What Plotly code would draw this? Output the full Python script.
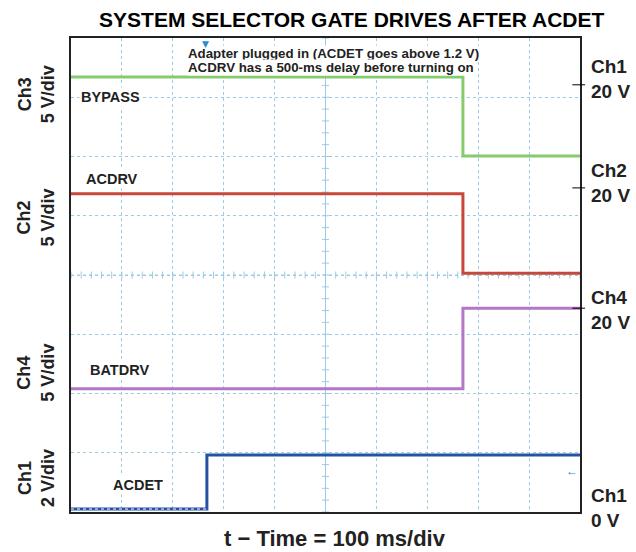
import numpy as np
import plotly.graph_objects as go

# time in ms (100 ms/div), levels in screen divisions from the bottom
t_edge = 770          # BYPASS / ACDRV / BATDRV switch
t_acdet = 267         # ACDET rises

bypass_t = [0, t_edge, t_edge, 1000]
bypass_y = [7.34, 7.34, 6.01, 6.01]

acdrv_t = [0, t_edge, t_edge, 1000]
acdrv_y = [5.37, 5.37, 4.03, 4.03]

batdrv_t = [0, t_edge, t_edge, 1000]
batdrv_y = [2.08, 2.08, 3.44, 3.44]

acdet_t = [0, t_acdet, t_acdet, 1000]
acdet_y = [0.05, 0.05, 0.96, 0.96]

trace_labels = ["BYPASS", "ACDRV", "BATDRV", "ACDET"]
label_pos = [(77, 7.0), (80, 5.62), (95, 2.39), (132, 0.45)]

note_lines = ["Adapter plugged in (ACDET goes above 1.2 V)",
              "ACDRV has a 500-ms delay before turning on"]
note_y = [7.74, 7.50]

left_labels = ["Ch3<br>5 V/div", "Ch2<br>5 V/div", "Ch4<br>5 V/div", "Ch1<br>2 V/div"]
left_y = [7.05, 4.97, 2.35, 0.57]

right_labels = ["Ch1<br>20 V", "Ch2<br>20 V", "Ch4<br>20 V", "Ch1<br>0 V"]
right_y = [7.31, 5.55, 3.41, 0.06]
right_ticks = [7.21, 5.47, 3.44]

FONT = "Liberation Sans, Arial, sans-serif"
GRID = "#9ccbe3"

fig = go.Figure()

# center cross with minor ticks
minor = np.arange(0, 10.01, 0.2)
fig.add_trace(go.Scatter(x=minor * 100, y=[4] * len(minor), mode="lines+markers",
                         line=dict(color=GRID, width=1, dash="dot"),
                         marker=dict(symbol="line-ns", size=5, line=dict(color=GRID, width=1)),
                         hoverinfo="skip", showlegend=False))
minor_y = np.arange(0, 8.01, 0.2)
fig.add_trace(go.Scatter(x=[500] * len(minor_y), y=minor_y, mode="lines+markers",
                         line=dict(color=GRID, width=1, dash="dot"),
                         marker=dict(symbol="line-ew", size=5, line=dict(color=GRID, width=1)),
                         hoverinfo="skip", showlegend=False))

series = [
    (bypass_t, bypass_y, "#86cc6e"),
    (acdrv_t, acdrv_y, "#c9473a"),
    (batdrv_t, batdrv_y, "#b277c6"),
    (acdet_t, acdet_y, "#2453a3"),
]
for t, y, c in series:
    fig.add_trace(go.Scatter(x=t, y=y, mode="lines", line=dict(color=c, width=3),
                             hoverinfo="skip", showlegend=False))

# chain-like pattern on ACDET low level
fig.add_trace(go.Scatter(x=acdet_t[:2], y=acdet_y[:2], mode="lines",
                         line=dict(color="white", width=1, dash="dot"),
                         hoverinfo="skip", showlegend=False))

ann = []
for txt, (x, y) in zip(trace_labels, label_pos):
    ann.append(dict(x=x, y=y, text=f"<b>{txt}</b>", showarrow=False, bgcolor="white",
                    font=dict(size=14.5, color="#222", family=FONT)))

for txt, y in zip(note_lines, note_y):
    ann.append(dict(x=228, y=y, xanchor="left", yanchor="middle", showarrow=False,
                    bgcolor="white", borderpad=0, text=f"<b>{txt}</b>",
                    font=dict(size=13.3, color="#222", family=FONT)))

# trigger marker on top
ann.append(dict(x=t_acdet - 2, y=8, yanchor="top", text="▼", showarrow=False,
                borderpad=0, font=dict(size=9, color="#2d8bd0", family="DejaVu Sans")))

for txt, y in zip(left_labels, left_y):
    a, b = txt.split("<br>")
    ann.append(dict(xref="paper", x=-0.069, xanchor="center", y=y, yanchor="middle",
                    text=f"<b>{a}</b><br><b>{b}</b>", textangle=-90, showarrow=False,
                    font=dict(size=18, color="#222", family=FONT)))

# right-side channel labels (paper coords so the bottom one is not hidden)
for txt, y in zip(right_labels, right_y):
    a, b = txt.split("<br>")
    ann.append(dict(xref="paper", yref="paper", x=1.018, y=y / 8, xanchor="left",
                    yanchor="middle", align="left", text=f"<b>{a}</b><br><b>{b}</b>",
                    showarrow=False, font=dict(size=19, color="#222", family=FONT)))

ann.append(dict(x=985, y=0.7, text="←", showarrow=False,
                font=dict(size=12, color="#2d8bd0", family=FONT)))

ann.append(dict(xref="paper", yref="paper", x=0.519, y=-0.055, yanchor="middle",
                text="<b>t − Time = 100 ms/div</b>", showarrow=False,
                font=dict(size=22, color="#222", family=FONT)))

shapes = []
for y in right_ticks:
    shapes.append(dict(type="line", xref="paper", x0=0.985, x1=1.01, y0=y, y1=y,
                       line=dict(color="black", width=1)))

fig.update_layout(
    width=636, height=552,
    margin=dict(l=71, r=56, t=38, b=40),
    paper_bgcolor="white", plot_bgcolor="white",
    title=dict(text="<b>SYSTEM SELECTOR GATE DRIVES AFTER ACDET</b>", x=0.553, xanchor="center",
               y=0.965, yanchor="middle", font=dict(size=21, color="black", family=FONT)),
    annotations=ann,
    shapes=shapes,
)

fig.update_xaxes(range=[0, 1000], dtick=100, showticklabels=False, ticks="",
                 showgrid=True, gridcolor=GRID, griddash="dot", gridwidth=1,
                 showline=True, linecolor="#222", linewidth=2, mirror=True, zeroline=False)
fig.update_yaxes(range=[0, 8], dtick=1, showticklabels=False, ticks="",
                 showgrid=True, gridcolor=GRID, griddash="dot", gridwidth=1,
                 showline=True, linecolor="#222", linewidth=2, mirror=True, zeroline=False)

fig.write_html("out.html", config={"displayModeBar": False},
               post_script="document.body.style.margin='0px';")
